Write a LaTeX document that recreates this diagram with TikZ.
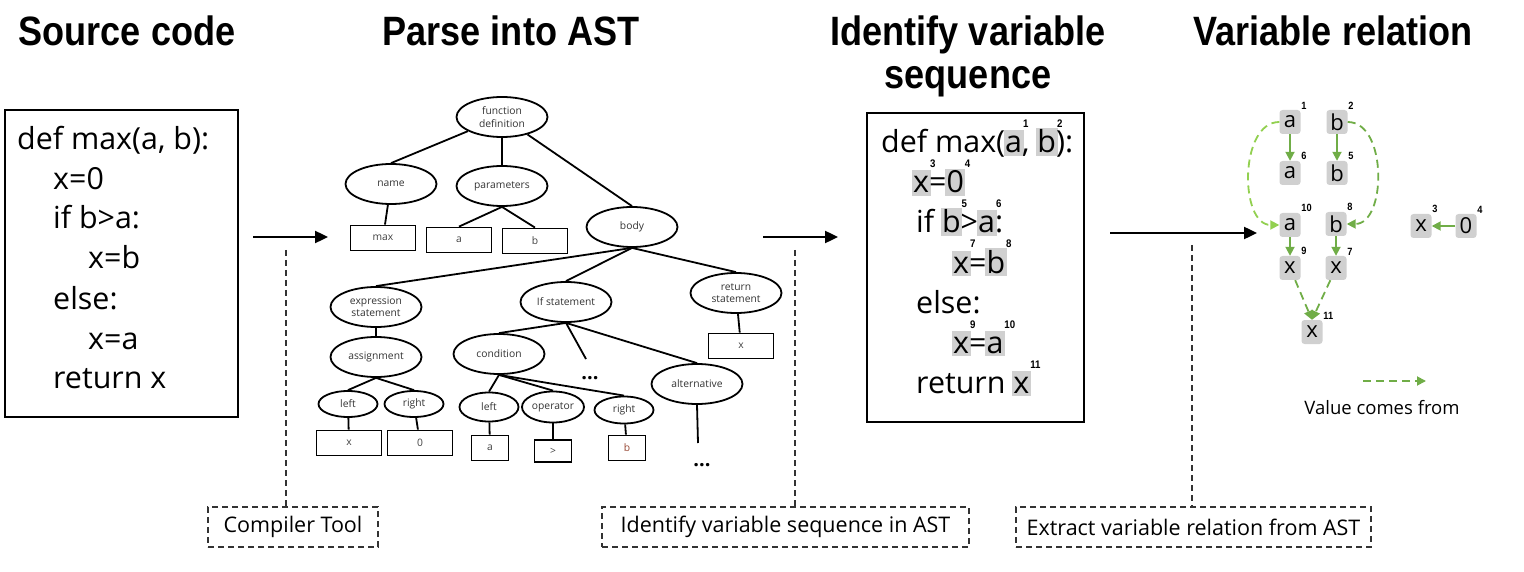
\documentclass[tikz,border=0pt]{standalone}
\usepackage{fontspec}
\setmainfont{Open Sans}
\newfontfamily\titlefont[FakeStretch=0.88]{Liberation Sans}
\usetikzlibrary{shapes.geometric,arrows.meta}
\definecolor{hlgray}{HTML}{D0D0D0}
\definecolor{vgreen}{HTML}{70AD47}
\definecolor{lgreen}{HTML}{92D050}
\definecolor{leafgray}{HTML}{404040}
\newcommand\numtag[1]{{\titlefont\bfseries\fontsize{11}{11}\selectfont #1}}
\newcommand\hv[2]{{\fboxsep=1.5pt\kern-\fboxsep\colorbox{hlgray}{\rule[-1.5pt]{0pt}{22.5pt}#1}\kern-\fboxsep}\rlap{\kern1pt\raisebox{25pt}{\numtag{#2}}}}

\begin{document}
\begin{tikzpicture}[x=1pt,y=-1pt,
    ttl/.style={font=\titlefont\bfseries\fontsize{41}{46}\selectfont, anchor=base, inner sep=0},
    codeline/.style={font=\fontsize{30.4}{36}\selectfont, anchor=base west, inner sep=0},
    srcbox/.style={draw, line width=1.9pt, inner sep=0},
    astnode/.style={ellipse, draw, line width=1.8pt, inner sep=0, minimum width=91pt, minimum height=40pt,
        align=center, text=black!80, font=\fontsize{10.3}{12.5}\selectfont},
    smallnode/.style={astnode, minimum width=59pt, minimum height=26pt},
    astleaf/.style={draw, line width=1.8pt, inner sep=0, minimum width=65pt, minimum height=25pt,
        text=leafgray, font=\fontsize{10.3}{12.5}\selectfont},
    narrowleaf/.style={astleaf, minimum width=37pt},
    tagbox/.style={draw=black!80, dash pattern=on 6pt off 4pt, line width=1.4pt, minimum height=40pt,
        inner sep=0, font=\fontsize{21.5}{24}\selectfont},
    dashline/.style={draw=black!80, dash pattern=on 6pt off 4pt, line width=1.4pt},
    mainarrow/.style={-{Triangle[length=13pt,width=12pt]}, line width=2.4pt},
    astedge/.style={line width=1.8pt},
    varbox/.style={fill=hlgray, rounded corners=3pt, minimum width=21pt, minimum height=24pt, inner sep=0,
        font=\fontsize{22}{22}\selectfont},
    varnum/.style={inner sep=0.5pt, font=\titlefont\bfseries\fontsize{10.5}{10.5}\selectfont},
    solidflow/.style={vgreen, line width=1.8pt, -{Triangle[length=9pt,width=9pt]}},
    dashflow/.style={solidflow, dash pattern=on 8pt off 5pt}]
\useasboundingbox (0,0) rectangle (1524,572);

\node[ttl] (t1) at (127,46) {Source code};
\node[ttl] (t2) at (511,46) {Parse into AST};
\node[ttl] (t3a) at (968,46) {Identify variable};
\node[ttl] (t3b) at (968,89) {sequence};
\node[ttl] (t4) at (1333,46) {Variable relation};

\node[srcbox, minimum width=233pt, minimum height=307pt] (src) at (121.5,263.5) {};
\node[codeline] (s1) at (17,150) {def max(a, b):};
\node[codeline] (s2) at (53,190) {x=0};
\node[codeline] (s3) at (53,229) {if b>a:};
\node[codeline] (s4) at (88,269) {x=b};
\node[codeline] (s5) at (53,309) {else:};
\node[codeline] (s6) at (88,349) {x=a};
\node[codeline] (s7) at (53,388) {return x};

\coordinate (p1) at (253,237);
\coordinate (q1) at (328,237);
\draw[mainarrow] (p1) -- (q1);
\coordinate (d1) at (286,250);
\node[tagbox, minimum width=170pt] (ct) at (293,527) {Compiler Tool};
\draw[dashline] (d1) -- (d1 |- ct.north);

\node[astnode] (fd) at (502,117) {function\\definition};
\node[astnode] (nm) at (391,184) {name};
\node[astnode] (pa) at (502,186) {parameters};
\node[astnode] (bd) at (632,227) {body};
\node[astleaf] (lmax) at (383,238) {max};
\node[astleaf] (la) at (459,240) {a};
\node[astleaf] (lb) at (535,241) {b};
\node[astnode] (es) at (376,307) {expression\\statement};
\node[astnode] (is) at (566,302) {If statement};
\node[astnode] (rs) at (736,293) {return\\statement};
\node[astleaf] (lrx) at (741,346) {x};
\node[astnode] (as) at (376,357) {assignment};
\node[astnode] (cd) at (499,354) {condition};
\node[astnode] (al) at (697,384) {alternative};
\node[smallnode] (el) at (348,404) {left};
\node[smallnode] (er) at (414,404) {right};
\node[astleaf] (lx) at (349,443) {x};
\node[astleaf] (l0) at (420,443) {0};
\node[smallnode, minimum height=29pt] (cl) at (489,407) {left};
\node[smallnode, minimum width=62pt, minimum height=31pt] (co) at (553,407) {operator};
\node[smallnode, minimum height=27pt] (cr) at (624,410) {right};
\node[narrowleaf] (lca) at (490,448) {a};
\node[narrowleaf, minimum height=22pt] (lop) at (553,451) {>};
\node[narrowleaf, text={rgb,255:red,150;green,70;blue,50}] (lcb) at (627,448) {b};
\coordinate (e1) at (586,359);
\coordinate (e2) at (698,443);
\node[anchor=base, font=\bfseries\fontsize{20}{20}\selectfont] (dt1) at (590,379) {...};
\node[anchor=base, font=\bfseries\fontsize{20}{20}\selectfont] (dt2) at (702,466) {...};

\draw[astedge] (fd) -- (nm.north);
\draw[astedge] (fd) -- (pa);
\draw[astedge] (fd) -- (bd.north);
\draw[astedge] (nm) -- (lmax);
\draw[astedge] (pa.south) -- (la.north);
\draw[astedge] (pa.south) -- (lb.north);
\draw[astedge] (bd.south) -- (es.north);
\draw[astedge] (bd.south) -- (is.north);
\draw[astedge] (bd.south) -- (rs.north);
\draw[astedge] (rs) -- (lrx);
\draw[astedge] (es) -- (as);
\draw[astedge] (as.south) -- (el.north);
\draw[astedge] (as.south) -- (er.north);
\draw[astedge] (el) -- (lx);
\draw[astedge] (er) -- (l0);
\draw[astedge] (is.south) -- (cd.north);
\draw[astedge] (is.south) -- (e1);
\draw[astedge] (is.south) -- (al.north);
\draw[astedge] (cd.south) -- (cl.north);
\draw[astedge] (cd.south) -- (co.north);
\draw[astedge] (cd.south) -- (cr.north);
\draw[astedge] (cl) -- (lca);
\draw[astedge] (co) -- (lop);
\draw[astedge] (cr) -- (lcb);
\draw[astedge] (al.south) -- (e2);

\coordinate (p2) at (763,237);
\coordinate (q2) at (838,237);
\draw[mainarrow] (p2) -- (q2);
\coordinate (d2) at (795,250);
\node[tagbox, minimum width=367pt] (it) at (785.5,527) {Identify variable sequence in AST};
\draw[dashline] (d2) -- (d2 |- it.north);

\node[srcbox, minimum width=217pt, minimum height=309pt] (seq) at (975.5,267.5) {};
\node[codeline] (v1) at (881,153) {def max(\hv{a}{1}, \hv{b}{2}):};
\node[codeline] (v2) at (913,193) {\hv{x}{3}=\hv{0}{4}};
\node[codeline] (v3) at (916,233) {if \hv{b}{5}>\hv{a}{6}:};
\node[codeline] (v4) at (953,273) {\hv{x}{7}=\hv{b}{8}};
\node[codeline] (v5) at (916,313) {else:};
\node[codeline] (v6) at (953,353) {\hv{x}{9}=\hv{a}{10}};
\node[codeline] (v7) at (916,393) {return \hv{x}{11}};

\coordinate (p3) at (1110,233);
\coordinate (q3) at (1257,233);
\draw[mainarrow] (p3) -- (q3);
\coordinate (d3) at (1192,245);
\node[tagbox, minimum width=355pt] (et) at (1193.5,527) {Extract variable relation from AST};
\draw[dashline] (d3) -- (d3 |- et.north);

\node[varbox, label={[varnum]north east:1}] (ra1) at (1290,122) {a};
\node[varbox, label={[varnum]north east:2}] (rb2) at (1337,122) {b};
\node[varbox, label={[varnum]north east:6}] (ra6) at (1290,173) {a};
\node[varbox, label={[varnum]north east:5}] (rb5) at (1337,173) {b};
\node[varbox, label={[varnum]north east:10}] (ra10) at (1290,225) {a};
\node[varbox, label={[varnum]north east:8}] (rb8) at (1336,224) {b};
\node[varbox, label={[varnum]north east:9}] (rx9) at (1290,268) {x};
\node[varbox, label={[varnum]north east:7}] (rx7) at (1336,268) {x};
\node[varbox, label={[varnum]north east:11}] (rx11) at (1312,332) {x};
\node[varbox, label={[varnum]north east:3}] (rx3) at (1421,226) {x};
\node[varbox, label={[varnum]north east:4}] (r04) at (1466,226) {0};

\draw[solidflow] (ra1) -- (ra6);
\draw[solidflow] (rb2) -- (rb5);
\draw[solidflow] (ra10) -- (rx9);
\draw[solidflow] (rb8) -- (rx7);
\draw[solidflow] (r04) -- (rx3);
\draw[dashflow] (rx9) -- (rx11.north);
\draw[dashflow] (rx7) -- (rx11.north);
\draw[dashflow, lgreen] (ra1.west) to[out=180, in=180] (ra10.west);
\draw[dashflow] (rb2.east) to[out=0, in=0] (rb8.east);

\coordinate (lg1) at (1363,381);
\coordinate (lg2) at (1426,381);
\draw[dashflow] (lg1) -- (lg2);
\node[font=\fontsize{18.5}{20}\selectfont] (lgt) at (1382,408) {Value comes from};
\end{tikzpicture}
\end{document}
